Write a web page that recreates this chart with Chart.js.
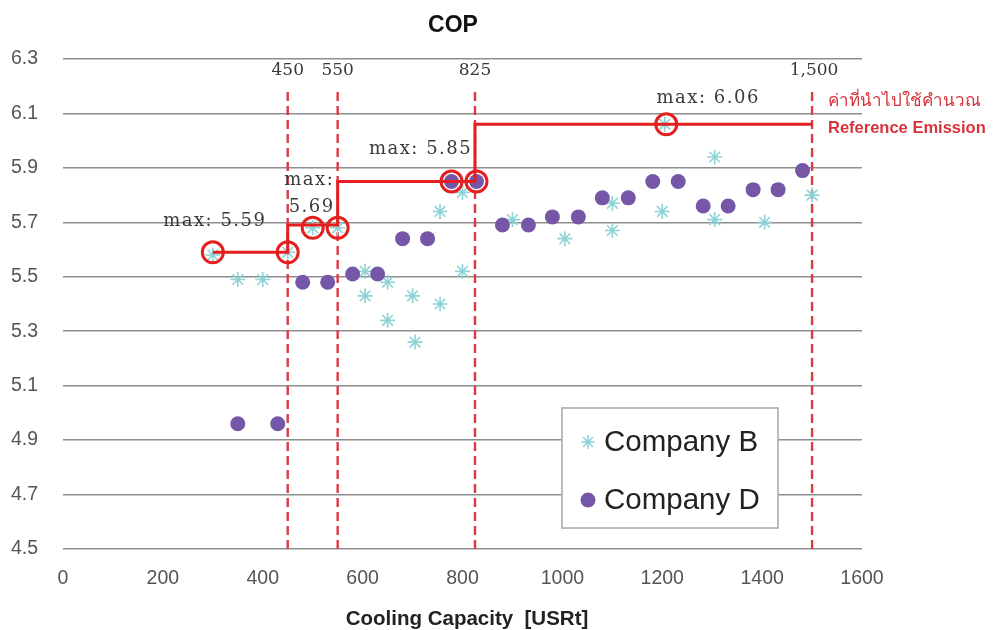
<!DOCTYPE html>
<html><head><meta charset="utf-8">
<script src="https://cdn.jsdelivr.net/npm/chart.js@4.4.1/dist/chart.umd.min.js"></script>
<style>html,body{margin:0;padding:0;background:#fff}#wrap{width:997px;height:630px}</style>
</head><body><div id="wrap"><canvas id="c"></canvas></div>
<script>
// ---- data ----
const companyBX = [300,350,400,450,500,550,605,605,650,650,700,705,755,755,800,800,900,1005,1100,1100,1200,1205,1305,1305,1405,1500];
const companyBY = [5.58,5.49,5.49,5.59,5.68,5.68,5.52,5.43,5.48,5.34,5.43,5.26,5.40,5.74,5.81,5.52,5.71,5.64,5.77,5.67,5.74,6.06,5.94,5.71,5.70,5.80];
const companyDX = [350,430,480,530,580,630,680,730,778,828,880,932,980,1032,1080,1132,1181,1232,1282,1332,1382,1432,1481];
const companyDY = [4.96,4.96,5.48,5.48,5.51,5.51,5.64,5.64,5.85,5.85,5.69,5.69,5.72,5.72,5.79,5.79,5.85,5.85,5.76,5.76,5.82,5.82,5.89];
const stepStart = 300;
const stepBreaks = [450,550,825,1500];
const stepLevels = [5.59,5.69,5.85,6.06];
const circleX = [300,450,500,550,778,828,1208];
const circleY = [5.59,5.59,5.68,5.68,5.85,5.85,6.06];
const boundaryLabels = ['450','550','825','1,500'];
const dashTop = 6.19;
const yTickValues = [4.5,4.7,4.9,5.1,5.3,5.5,5.7,5.9,6.1,6.3];
const xTickValues = [0,200,400,600,800,1000,1200,1400,1600];
const maxLabels = [
  {x:304, y:5.705, text:'max: 5.59'},
  {x:493, y:5.855, text:'max:'},
  {x:498, y:5.755, text:'5.69'},
  {x:716, y:5.97, text:'max: 5.85'},
  {x:1292, y:6.157, text:'max: 6.06'}
];

// ---- derived ----
const stepPts = [{x:stepStart, y:stepLevels[0]}];
stepBreaks.forEach((b,i)=>{
  stepPts.push({x:b, y:stepLevels[i]});
  if (i < stepLevels.length-1) stepPts.push({x:b, y:stepLevels[i+1]});
});
const dashPts = [];
stepBreaks.forEach(b=>{ dashPts.push({x:b,y:4.5},{x:b,y:dashTop},{x:b,y:null}); });

const RED = '#e3201f';
const NOTE_RED = '#d8323c';
const CYAN = '#8dd3d6';
const PURPLE = '#7657a7';

const overlay = {
  id:'overlay',
  afterDraw(chart){
    const ctx = chart.ctx, xs = chart.scales.x, ys = chart.scales.y;
    ctx.save();
    // title
    ctx.fillStyle = '#111';
    ctx.font = 'bold 23px "Liberation Sans", Arial, sans-serif';
    ctx.textAlign = 'center'; ctx.textBaseline = 'middle';
    ctx.fillText('COP', 453, 26);
    // x title
    ctx.fillStyle = '#222';
    ctx.font = 'bold 20.5px "Liberation Sans", Arial, sans-serif';
    ctx.fillText('Cooling Capacity  [USRt]', 467, 619);
    // boundary labels
    ctx.fillStyle = '#3a3a3a';
    ctx.font = '17px "DejaVu Serif", "Liberation Serif", serif';
    stepBreaks.forEach((b,i)=>{
      ctx.fillText(boundaryLabels[i], xs.getPixelForValue(b) + (i===3?2:0), 71);
    });
    // max labels
    ctx.font = '18px "DejaVu Serif", "Liberation Serif", serif';
    try { ctx.letterSpacing = '1.5px'; } catch(e) {}
    maxLabels.forEach(l=>{
      ctx.fillText(l.text, xs.getPixelForValue(l.x), ys.getPixelForValue(l.y));
    });
    try { ctx.letterSpacing = '0px'; } catch(e) {}
    // red note
    ctx.fillStyle = NOTE_RED;
    ctx.textAlign = 'left';
    ctx.font = '17px "Noto Sans", "DejaVu Sans", sans-serif';
    ctx.fillText('ค่าที่นำไปใช้คำนวณ', 828, 101);
    ctx.font = 'bold 16.5px "Liberation Sans", Arial, sans-serif';
    ctx.fillText('Reference Emission', 828, 128);
    // legend box
    ctx.fillStyle = '#fff';
    ctx.fillRect(562, 408, 216, 120);
    ctx.strokeStyle = '#a8a8a8'; ctx.lineWidth = 1.5;
    ctx.strokeRect(562, 408, 216, 120);
    // asterisk
    ctx.strokeStyle = CYAN; ctx.lineWidth = 1.6;
    const ax = 588, ay = 442, r = 7;
    ctx.beginPath();
    for (let k=0;k<4;k++){
      const a = k*Math.PI/4;
      ctx.moveTo(ax - r*Math.cos(a), ay - r*Math.sin(a));
      ctx.lineTo(ax + r*Math.cos(a), ay + r*Math.sin(a));
    }
    ctx.stroke();
    ctx.fillStyle = PURPLE;
    ctx.beginPath(); ctx.arc(588, 500, 7.5, 0, Math.PI*2); ctx.fill();
    ctx.fillStyle = '#222';
    ctx.font = '29.5px "Liberation Sans", Arial, sans-serif';
    ctx.textBaseline = 'middle';
    ctx.fillText('Company B', 604, 443);
    ctx.fillText('Company D', 604, 501);
    ctx.restore();
  }
};

new Chart(document.getElementById('c'), {
  type:'scatter',
  data:{ datasets:[
    {label:'circles', data: circleX.map((x,i)=>({x, y:circleY[i]})), pointStyle:'circle', pointRadius:10.5,
     pointBorderWidth:3, pointBorderColor:RED, pointBackgroundColor:'rgba(0,0,0,0)', showLine:false, order:0},
    {label:'step', data: stepPts, showLine:true, borderColor:RED, borderWidth:3, pointRadius:0, order:1},
    {label:'Company D', data: companyDX.map((x,i)=>({x, y:companyDY[i]})), pointStyle:'circle', pointRadius:7.5,
     pointBackgroundColor:PURPLE, pointBorderColor:PURPLE, pointBorderWidth:0, order:2},
    {label:'Company B', data: companyBX.map((x,i)=>({x, y:companyBY[i]})), pointStyle:'star', pointRadius:7.5,
     pointBorderColor:CYAN, pointBackgroundColor:CYAN, pointBorderWidth:1.6, order:3},
    {label:'bounds', data: dashPts, showLine:true, spanGaps:false, borderColor:'#dc3a44', borderWidth:2.4,
     borderDash:[9,5], pointRadius:0, order:4}
  ]},
  options:{
    responsive:true, maintainAspectRatio:false, animation:false,
    layout:{padding:{top:59, right:135, left:0, bottom:0}},
    plugins:{legend:{display:false}, tooltip:{enabled:false}, title:{display:false}},
    scales:{
      x:{type:'linear', min:0, max:1600,
        afterBuildTicks(s){ s.ticks = xTickValues.map(v=>({value:v})); },
        afterFit(s){ s.height = 81; },
        grid:{display:false}, border:{display:false},
        ticks:{padding:10, color:'#555', font:{family:'"Liberation Sans", Arial, sans-serif', size:19.5}, maxRotation:0,
          callback:v=>String(v)}},
      y:{type:'linear', min:4.5, max:6.3,
        afterBuildTicks(s){ s.ticks = yTickValues.map(v=>({value:v})); },
        afterFit(s){ s.width = 63; },
        grid:{color:'#8e8e8e', lineWidth:1.5, drawTicks:false}, border:{display:false},
        ticks:{padding:25, color:'#555', font:{family:'"Liberation Sans", Arial, sans-serif', size:19.5},
          callback:v=>Number(v).toFixed(1)}}
    }
  },
  plugins:[overlay]
});
</script></body></html>
